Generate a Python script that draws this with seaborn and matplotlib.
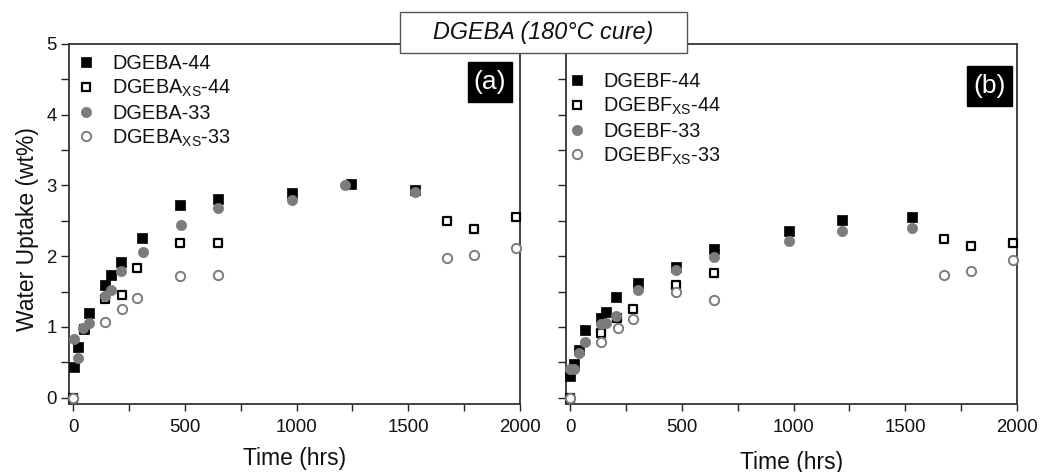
import numpy as np
import pandas as pd
import matplotlib
matplotlib.use("Agg")
import matplotlib.pyplot as plt
from matplotlib.patches import Rectangle
from matplotlib.lines import Line2D
import seaborn as sns

sns.set_theme(style="white")
plt.rcParams['font.family'] = ['Liberation Sans', 'DejaVu Sans']
plt.rcParams['mathtext.default'] = 'regular'

# ---------------- data: panel (a) DGEBA ----------------
a44_t = [4, 24, 49, 73, 144, 168, 214, 310, 480, 647, 979, 1246, 1531]
a44_w = [0.43, 0.72, 0.97, 1.20, 1.59, 1.74, 1.92, 2.26, 2.72, 2.81, 2.90, 3.02, 2.94]
axs44_t = [0, 48, 144, 217, 288, 480, 647, 1673, 1792, 1981]
axs44_w = [0.0, 0.97, 1.39, 1.45, 1.83, 2.19, 2.18, 2.50, 2.39, 2.56]
a33_t = [6, 24, 46, 73, 142, 168, 214, 313, 481, 647, 981, 1219, 1531]
a33_w = [0.83, 0.56, 0.99, 1.05, 1.44, 1.52, 1.79, 2.06, 2.44, 2.68, 2.79, 3.00, 2.91]
axs33_t = [0, 142, 217, 288, 480, 647, 1673, 1792, 1981]
axs33_w = [0.0, 1.07, 1.26, 1.41, 1.72, 1.73, 1.98, 2.01, 2.12]

# ---------------- data: panel (b) DGEBF ----------------
b44_t = [0, 18, 40, 66, 137, 161, 207, 306, 476, 643, 978, 1218, 1532]
b44_w = [0.30, 0.47, 0.67, 0.95, 1.12, 1.21, 1.42, 1.62, 1.84, 2.10, 2.35, 2.51, 2.55]
bxs44_t = [0, 137, 212, 283, 476, 643, 1675, 1794, 1983]
bxs44_w = [0.0, 0.91, 1.13, 1.26, 1.59, 1.76, 2.24, 2.14, 2.18]
b33_t = [0, 18, 40, 66, 137, 161, 207, 306, 476, 643, 978, 1218, 1532]
b33_w = [0.40, 0.40, 0.63, 0.79, 1.04, 1.05, 1.15, 1.52, 1.80, 1.99, 2.22, 2.35, 2.40]
bxs33_t = [0, 137, 215, 283, 476, 643, 1675, 1794, 1983]
bxs33_w = [0.0, 0.79, 0.99, 1.11, 1.49, 1.38, 1.73, 1.79, 1.95]

labels_a = ['DGEBA-44', r'DGEBA$_{XS}$-44', 'DGEBA-33', r'DGEBA$_{XS}$-33']
labels_b = ['DGEBF-44', r'DGEBF$_{XS}$-44', 'DGEBF-33', r'DGEBF$_{XS}$-33']
xticks = [0, 500, 1000, 1500, 2000]
yticks = [0, 1, 2, 3, 4, 5]

GRAY = '#7c7c7c'
styles = [
    dict(marker='s', s=42, color='black', edgecolor='black', linewidth=0.5),
    dict(marker='s', s=34, color='white', edgecolor='black', linewidth=1.6),
    dict(marker='o', s=55, color=GRAY, edgecolor=GRAY, linewidth=0.5),
    dict(marker='o', s=45, color='white', edgecolor=GRAY, linewidth=1.4),
]

W, H = 1041, 472
fig = plt.figure(figsize=(W / 100, H / 100), dpi=100)
top_px, bot_px = 44, 404
ax1 = fig.add_axes([69 / W, 1 - bot_px / H, (520 - 69) / W, (bot_px - top_px) / H])
ax2 = fig.add_axes([566 / W, 1 - bot_px / H, (1017 - 566) / W, (bot_px - top_px) / H])

panels = [
    (ax1, [(a44_t, a44_w), (axs44_t, axs44_w), (a33_t, a33_w), (axs33_t, axs33_w)], labels_a),
    (ax2, [(b44_t, b44_w), (bxs44_t, bxs44_w), (b33_t, b33_w), (bxs33_t, bxs33_w)], labels_b),
]

for ax, series, labels in panels:
    for (t, w), st, lab in zip(series, styles, labels):
        df = pd.DataFrame({'t': t, 'w': w})
        sns.scatterplot(data=df, x='t', y='w', ax=ax, zorder=3, legend=False, clip_on=False, **st)
    ax.set_xlim(-18, 2000)
    ax.set_ylim(-0.09, 4.99)
    ax.set_xticks(xticks)
    ax.set_xticks([250, 750, 1250, 1750], minor=True)
    ax.set_yticks(yticks)
    ax.set_yticks([0.5, 1.5, 2.5, 3.5, 4.5], minor=True)
    ax.tick_params(axis='both', which='both', direction='out', length=5, width=1,
                   color='#222222', labelsize=13.4, labelcolor='#111111')
    ax.tick_params(axis='x', which='both', pad=6)
    ax.tick_params(axis='y', which='both', length=6, pad=3)
    ax.tick_params(bottom=True, left=True, top=False, right=False, which='both')
    for sp in ax.spines.values():
        sp.set_color('#333333')
        sp.set_linewidth(1.3)
    ax.set_ylabel('')
    ax.set_xlabel('')
    handles = [Line2D([], [], linestyle='none', marker=st['marker'],
                      markersize=np.sqrt(st['s']), markerfacecolor=st['color'],
                      markeredgecolor=st['edgecolor'], markeredgewidth=st['linewidth'])
               for st in styles]
    ax.legend(handles, labels, loc='upper left', frameon=False, fontsize=14.3,
              handletextpad=0.9, labelspacing=0.24, handlelength=0.8,
              borderaxespad=0.0,
              bbox_to_anchor=(0.003, 0.995) if ax is ax1 else (-0.01, 0.945),
              labelcolor='#111111')

ax2.tick_params(axis='y', labelleft=False)

ax1.set_ylabel('Water Uptake (wt%)', fontsize=16.5, color='#111111', va='center')
ax1.yaxis.set_label_coords(-(69 - 28) / 451, 1 - (229 - top_px) / 360)
ax1.set_xlabel('Time (hrs)', fontsize=16.5, color='#111111', va='center')
ax1.xaxis.set_label_coords(0.5, -(458 - bot_px) / 360)
ax2.set_xlabel('Time (hrs)', fontsize=16.5, color='#111111', va='center')
ax2.xaxis.set_label_coords(0.5, -(462 - bot_px) / 360)

# panel tags
for ax, tag, (x0, x1, y0, y1) in [(ax1, '(a)', (0.885, 0.982, 0.839, 0.95)),
                                   (ax2, '(b)', (0.889, 0.989, 0.828, 0.939))]:
    ax.add_patch(Rectangle((x0, y0), x1 - x0, y1 - y0, transform=ax.transAxes,
                           facecolor='black', edgecolor='black', zorder=5, clip_on=False))
    ax.text((x0 + x1) / 2, (y0 + y1) / 2, tag, transform=ax.transAxes, color='white',
            fontsize=19, ha='center', va='center', zorder=6)

# title box overlapping both panels
bx0, bx1, by0, by1 = 400, 687, 12, 53
fig.patches.append(Rectangle((bx0 / W, 1 - by1 / H), (bx1 - bx0) / W, (by1 - by0) / H,
                             transform=fig.transFigure, facecolor='white',
                             edgecolor='#555555', linewidth=1.0, zorder=10))
fig.text((bx0 + bx1) / 2 / W, 1 - 33 / H, 'DGEBA (180°C cure)', style='italic',
         fontsize=16.8, ha='center', va='center', color='#111111', zorder=11)

fig.savefig('out.png', dpi=100, facecolor='white')
